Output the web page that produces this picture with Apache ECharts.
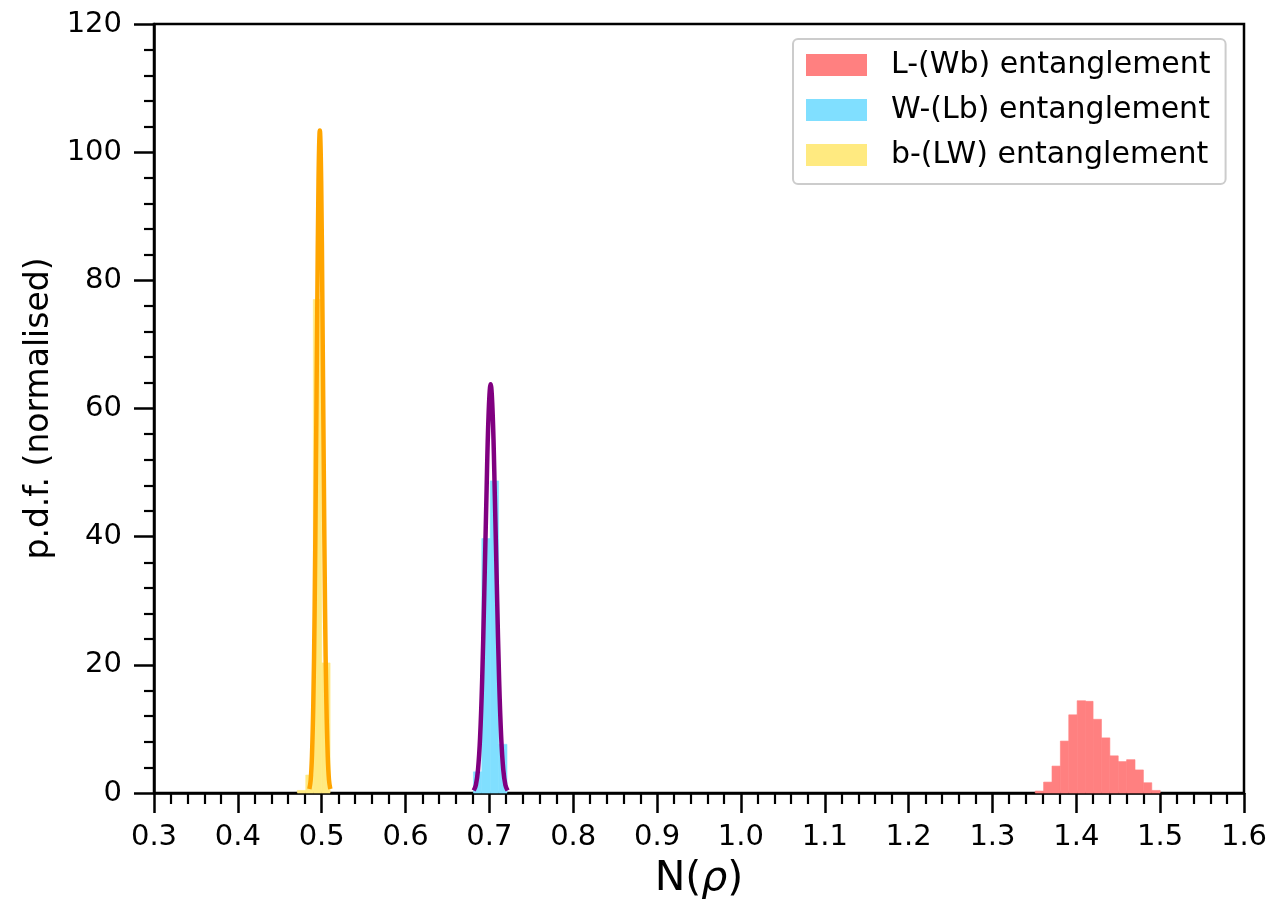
<!DOCTYPE html>
<html lang="en">
<head>
    <meta charset="UTF-8">
    <title>N(rho) pdf</title>
    <script src="https://cdn.jsdelivr.net/npm/echarts@6/dist/echarts.min.js"></script>
    <style>
        html, body { margin: 0; padding: 0; background: #fff; }
    </style>
</head>
<body>
    <div id="main" style="width: 1274px;height:907px;"></div>
    <script>
        // histogram bin edges and heights
        var redEdges = [1.351, 1.361, 1.371, 1.381, 1.391, 1.401, 1.411, 1.420, 1.430, 1.440, 1.450, 1.460, 1.470, 1.480, 1.490, 1.500];
        var redHeights = [0.3, 1.7, 4.2, 8.1, 12.2, 14.4, 14.3, 11.5, 8.6, 5.8, 4.9, 5.2, 3.6, 1.6, 0.4];

        var blueEdges = [0.681, 0.691, 0.701, 0.711, 0.721];
        var blueHeights = [3.3, 39.7, 48.7, 7.6];

        var yellowEdges = [0.471, 0.481, 0.490, 0.500, 0.510];
        var yellowHeights = [0.4, 2.8, 77, 20.3];

        // fitted curves, points
        var purpleX = [0.6813, 0.6839, 0.6864, 0.6889, 0.6914, 0.6939, 0.6965, 0.6990, 0.7015, 0.7040, 0.7065, 0.7091, 0.7116, 0.7141, 0.7166, 0.7191, 0.7217];
        var purpleY = [0.38, 1.26, 3.58, 8.63, 17.7, 31.1, 46.3, 58.9, 63.8, 58.9, 46.3, 31.1, 17.7, 8.63, 3.58, 1.26, 0.38];

        var orangeX = [0.4853, 0.4869, 0.4884, 0.4900, 0.4916, 0.4931, 0.4947, 0.4962, 0.4978, 0.4994, 0.5009, 0.5025, 0.5040, 0.5056, 0.5072, 0.5087, 0.5103];
        var orangeY = [0.62, 2.05, 5.80, 14.0, 28.7, 50.3, 75.1, 95.4, 103.4, 95.4, 75.1, 50.3, 28.7, 14.0, 5.80, 2.05, 0.62];

        var names = ['L-(Wb) entanglement', 'W-(Lb) entanglement', 'b-(LW) entanglement'];

        var FONT = 'DejaVu Sans';

        function bins(edges, heights) {
            var out = [];
            for (var i = 0; i < heights.length; i++) {
                out.push([edges[i], edges[i + 1], heights[i]]);
            }
            return out;
        }

        function pairs(xs, ys) {
            var out = [];
            for (var i = 0; i < xs.length; i++) out.push([xs[i], ys[i]]);
            return out;
        }

        function renderBin(params, api) {
            var tl = api.coord([api.value(0), api.value(2)]);
            var br = api.coord([api.value(1), 0]);
            var st = api.style();
            st.stroke = st.fill;
            st.lineWidth = 0.6;
            return {
                type: 'rect',
                shape: { x: tl[0], y: tl[1], width: br[0] - tl[0], height: br[1] - tl[1] },
                style: st
            };
        }

        function histSeries(name, data, color) {
            return {
                name: name,
                type: 'custom',
                renderItem: renderBin,
                encode: { x: [0, 1], y: 2 },
                itemStyle: { color: color },
                data: data,
                z: 2
            };
        }

        function curveSeries(data, color) {
            return {
                type: 'line',
                data: data,
                smooth: 0.4,
                showSymbol: false,
                silent: true,
                lineStyle: { color: color, width: 4.5 },
                z: 3
            };
        }

        var myChart = echarts.init(document.getElementById('main'));

        var option = {
            animation: false,
            backgroundColor: '#fff',
            textStyle: { fontFamily: FONT },
            grid: {
                left: 154, right: 30, top: 24, bottom: 114,
                show: true, borderColor: '#000', borderWidth: 2.5
            },
            legend: {
                orient: 'vertical',
                left: 793, top: 39,
                padding: [11, 15, 14, 13],
                itemWidth: 61, itemHeight: 22, itemGap: 15,
                icon: 'rect',
                backgroundColor: '#fff',
                borderColor: '#cccccc', borderWidth: 2, borderRadius: 5,
                textStyle: { fontFamily: FONT, fontSize: 30, color: '#000', padding: [0, 0, 0, 19] },
                data: names
            },
            xAxis: {
                type: 'value',
                min: 0.3, max: 1.6, interval: 0.1,
                name: 'N({i|ρ})',
                nameLocation: 'middle',
                nameGap: 66,
                nameTextStyle: {
                    fontFamily: FONT, fontSize: 41, color: '#000',
                    rich: { i: { fontFamily: FONT, fontSize: 41, fontStyle: 'italic', color: '#000' } }
                },
                axisLine: { show: true, lineStyle: { color: '#000', width: 2.5 } },
                axisTick: { show: true, inside: false, length: 20, lineStyle: { color: '#000', width: 2.5 } },
                minorTick: { show: true, splitNumber: 5, length: 11, lineStyle: { color: '#000', width: 2.2 } },
                splitLine: { show: false },
                axisLabel: {
                    fontFamily: FONT, fontSize: 29, color: '#000', margin: 30,
                    formatter: function (v) { return v.toFixed(1); }
                }
            },
            yAxis: {
                type: 'value',
                min: 0, max: 120, interval: 20,
                name: 'p.d.f. (normalised)',
                nameLocation: 'middle',
                nameGap: 95,
                nameTextStyle: { fontFamily: FONT, fontSize: 33, color: '#000' },
                axisLine: { show: true, lineStyle: { color: '#000', width: 2.5 } },
                axisTick: { show: true, inside: false, length: 20, lineStyle: { color: '#000', width: 2.5 } },
                minorTick: { show: true, splitNumber: 5, length: 10, lineStyle: { color: '#000', width: 2.2 } },
                splitLine: { show: false },
                axisLabel: { fontFamily: FONT, fontSize: 29, color: '#000', margin: 32 }
            },
            series: [
                histSeries(names[0], bins(redEdges, redHeights), '#ff8080'),
                histSeries(names[1], bins(blueEdges, blueHeights), '#80dfff'),
                histSeries(names[2], bins(yellowEdges, yellowHeights), '#ffea80'),
                curveSeries(pairs(purpleX, purpleY), '#800080'),
                curveSeries(pairs(orangeX, orangeY), '#ffa500')
            ]
        };
        myChart.setOption(option);
    </script>
</body>
</html>
